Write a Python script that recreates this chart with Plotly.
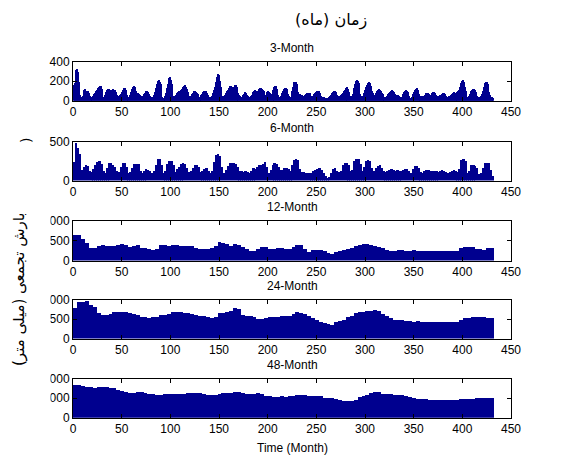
import plotly.graph_objects as go

# ---------------- data ----------------
PERIODS = ["3-Month", "6-Month", "12-Month", "24-Month", "48-Month"]

# 3-month cumulative precipitation, monthly (months 1..432)
SPI3 = [160, 180, 320, 330, 300, 190, 60, 40, 30, 50, 110, 120, 90, 105, 100, 80, 55, 45, 35, 45,
        55, 70, 85, 100, 115, 130, 145, 155, 150, 120, 40, 30, 60, 90, 115, 125, 120, 110, 105, 115,
        120, 110, 115, 90, 65, 50, 40, 60, 75, 95, 115, 130, 135, 110, 60, 45, 35, 40, 60, 90,
        125, 140, 150, 140, 100, 85, 80, 75, 65, 55, 40, 50, 70, 85, 100, 105, 90, 70, 55, 45,
        35, 40, 60, 90, 130, 170, 205, 215, 200, 170, 40, 30, 30, 35, 50, 80, 130, 175, 235, 245,
        220, 170, 50, 40, 50, 60, 85, 95, 100, 105, 110, 125, 140, 155, 160, 140, 120, 95, 55, 50,
        55, 75, 85, 100, 100, 95, 85, 70, 45, 40, 45, 60, 75, 90, 100, 105, 100, 85, 60, 45,
        35, 40, 50, 80, 110, 140, 200, 250, 275, 265, 210, 140, 50, 40, 50, 60, 85, 100, 115, 130,
        150, 155, 145, 130, 145, 160, 160, 145, 110, 85, 65, 55, 40, 45, 65, 75, 90, 85, 65, 55,
        40, 45, 50, 65, 95, 105, 110, 105, 95, 100, 120, 130, 130, 125, 115, 100, 55, 60, 95, 100,
        95, 80, 65, 70, 110, 130, 145, 155, 150, 125, 60, 45, 40, 55, 80, 100, 120, 130, 130, 120,
        70, 50, 35, 40, 100, 140, 190, 200, 195, 170, 90, 75, 70, 65, 60, 55, 55, 60, 75, 85,
        85, 85, 80, 70, 50, 40, 55, 70, 80, 90, 100, 105, 100, 85, 50, 40, 40, 45, 35, 30,
        30, 35, 40, 50, 60, 80, 95, 105, 100, 90, 65, 55, 50, 55, 65, 75, 85, 100, 115, 130,
        140, 140, 120, 95, 55, 50, 50, 75, 130, 170, 205, 215, 210, 185, 70, 50, 40, 50, 85, 115,
        140, 165, 185, 190, 180, 155, 100, 80, 60, 65, 85, 100, 110, 120, 115, 105, 85, 75, 55, 45,
        40, 45, 55, 70, 85, 95, 105, 108, 105, 95, 75, 65, 65, 65, 55, 45, 40, 45, 70, 90,
        100, 110, 105, 95, 50, 35, 30, 40, 70, 95, 115, 125, 130, 115, 70, 55, 55, 55, 50, 50,
        55, 65, 80, 85, 80, 70, 60, 65, 85, 95, 90, 80, 65, 55, 55, 55, 60, 65, 75, 85,
        80, 70, 55, 45, 45, 50, 55, 65, 75, 85, 90, 80, 70, 75, 90, 100, 110, 140, 185, 210,
        215, 200, 140, 100, 45, 40, 55, 75, 100, 115, 120, 125, 110, 90, 55, 45, 40, 45, 55, 75,
        105, 140, 180, 195, 195, 170, 95, 65, 40, 40, 35, 35]

# 6-month cumulative precipitation, 2-month bins (months 1-2, 3-4, ... 431-432)
SPI6 = [240, 490, 420, 340, 140, 180, 200, 195, 130, 110, 150, 200, 240, 255, 220, 130, 95, 170, 230, 235,
        210, 180, 120, 115, 180, 235, 225, 180, 100, 110, 160, 215, 220, 215, 130, 95, 130, 150, 145, 130,
        95, 120, 200, 280, 285, 200, 100, 130, 220, 250, 255, 210, 110, 150, 180, 215, 235, 215, 170, 110,
        120, 170, 210, 205, 180, 110, 120, 150, 160, 120, 95, 130, 240, 330, 350, 320, 180, 100, 140, 190,
        230, 225, 230, 220, 180, 130, 120, 110, 130, 110, 100, 130, 170, 150, 180, 210, 205, 215, 240, 175,
        100, 140, 200, 225, 220, 180, 135, 145, 165, 165, 150, 120, 200, 270, 285, 270, 150, 110, 115, 105,
        105, 100, 105, 120, 140, 155, 160, 140, 100, 60, 35, 50, 100, 150, 160, 120, 110, 130, 200, 230,
        235, 200, 120, 140, 250, 275, 275, 220, 120, 180, 255, 265, 250, 170, 130, 160, 195, 200, 170, 120,
        110, 120, 140, 150, 145, 130, 135, 130, 120, 140, 155, 155, 120, 100, 150, 185, 190, 170, 110, 100,
        120, 135, 135, 130, 130, 120, 120, 115, 125, 135, 130, 110, 100, 115, 130, 135, 120, 110, 150, 270,
        280, 250, 100, 130, 200, 210, 190, 170, 90, 95, 160, 230, 235, 225, 140, 65]

# 12-month cumulative precipitation, 4-month bins (months 1-4, 5-8, ... 429-432)
SPI12 = [650, 640, 560, 450, 320, 310, 370, 385, 380, 360, 370, 405, 410, 390, 350, 370, 385, 330, 310, 290,
         265, 300, 385, 385, 380, 385, 400, 360, 370, 375, 360, 310, 300, 300, 295, 310, 380, 460, 450, 420,
         360, 410, 405, 340, 300, 250, 255, 300, 340, 345, 300, 285, 330, 320, 300, 290, 350, 400, 390, 300,
         230, 260, 270, 260, 245, 190, 165, 220, 245, 270, 300, 320, 360, 395, 410, 415, 400, 370, 350, 330,
         260, 240, 245, 265, 260, 255, 250, 260, 250, 240, 245, 250, 240, 245, 240, 235, 240, 235, 240, 330,
         350, 345, 340, 290, 285, 270, 320, 320]

# 24-month cumulative precipitation, 4-month bins
SPI24 = [800, 950, 945, 975, 880, 820, 660, 615, 610, 640, 690, 700, 690, 680, 665, 650, 620, 570, 555, 550,
         555, 570, 620, 620, 640, 690, 700, 680, 665, 660, 640, 610, 600, 590, 560, 550, 560, 660, 670, 700,
         730, 790, 760, 620, 600, 590, 560, 510, 520, 540, 555, 555, 570, 590, 600, 590, 650, 680, 670, 640,
         590, 550, 500, 440, 420, 380, 360, 430, 460, 500, 560, 600, 660, 690, 700, 710, 725, 735, 720, 640,
         580, 530, 500, 490, 480, 460, 450, 445, 450, 440, 440, 430, 435, 430, 425, 430, 425, 430, 425, 480,
         545, 550, 555, 575, 570, 560, 540, 545]

# 48-month cumulative precipitation, 4-month bins
SPI48 = [1700, 1690, 1640, 1600, 1570, 1560, 1570, 1575, 1580, 1560, 1530, 1460, 1380, 1330, 1310, 1300, 1320, 1340, 1290, 1240,
         1210, 1200, 1205, 1210, 1230, 1235, 1240, 1245, 1250, 1270, 1275, 1270, 1265, 1260, 1200, 1190, 1200, 1250, 1270, 1275,
         1280, 1330, 1350, 1280, 1250, 1240, 1260, 1270, 1250, 1140, 1110, 1100, 1100, 1110, 1100, 1120, 1150, 1190, 1200, 1180,
         1130, 1120, 1140, 1110, 1050, 1040, 1030, 990, 950, 900, 895, 900, 920, 1080, 1120, 1200, 1270, 1330, 1340, 1260,
         1230, 1210, 1200, 1180, 1160, 1130, 1100, 1040, 1000, 980, 970, 940, 930, 920, 930, 920, 910, 920, 930, 975,
         990, 985, 990, 1020, 1030, 1010, 1040, 1040]

SERIES = [SPI3, SPI6, SPI12, SPI24, SPI48]
BIN_MONTHS = [1, 2, 4, 4, 4]          # months per bar
Y_MAX = [400, 500, 1000, 1000, 2000]
Y_STEP = [200, 500, 500, 500, 1000]
X_MAX = 450
X_STEP = 50

X_TITLE = "Time (Month)"
TOP_TITLE = "زمان (ماه)"
Y_TITLE = "بارش تجمعی (میلی متر)"

# ---------------- layout geometry (pixels) ----------------
W, H = 569, 455
X0, X1 = 73, 511
PANELS = [(61.7, 100.7), (141.7, 180.5), (220.7, 260.5), (299.5, 338.5), (378.5, 417.7)]
BAR = "rgb(0,0,143)"
FONT = "Liberation Sans, Arial, sans-serif"
AR_FONT = "DejaVu Sans, sans-serif"

fig = go.Figure()
layout = {}
annotations = []
for i, (name, vals, w) in enumerate(zip(PERIODS, SERIES, BIN_MONTHS)):
    n = "" if i == 0 else str(i + 1)
    xs = [1 + k * w + (w - 1) / 2 for k in range(len(vals))]
    fig.add_trace(go.Bar(x=xs, y=vals, width=w, marker=dict(color=BAR, line=dict(width=0)),
                         xaxis="x" + n, yaxis="y" + n, showlegend=False, hoverinfo="x+y"))
    top, bot = PANELS[i]
    common = dict(showline=True, linecolor="black", linewidth=1, mirror="allticks", ticks="inside",
                  ticklen=4, tickcolor="black", showgrid=False, zeroline=False, automargin=False,
                  tickfont=dict(family=FONT, size=12, color="black"))
    layout["xaxis" + n] = dict(domain=[X0 / W, X1 / W], anchor="y" + n, range=[0, X_MAX],
                               tick0=0, dtick=X_STEP, **common)
    layout["yaxis" + n] = dict(domain=[1 - bot / H, 1 - top / H], anchor="x" + n,
                               range=[0, Y_MAX[i]], tick0=0, dtick=Y_STEP[i], **common)
    annotations.append(dict(text=name, x=(X0 + X1) / 2 / W, y=1 - top / H, xref="paper", yref="paper",
                            xanchor="center", yanchor="bottom", yshift=5, showarrow=False,
                            font=dict(family=FONT, size=12, color="black")))

# white band that crops the left edge of the figure (as in the original export)
MASK_W = 48.5
annotations.insert(0, dict(text=" ", x=0, y=1 - 205 / H, xref="paper", yref="paper",
                           xanchor="left", yanchor="top", width=MASK_W, height=222, borderpad=0,
                           bgcolor="white", showarrow=False, font=dict(size=4)))

annotations += [
    dict(text=X_TITLE, x=(X0 + X1) / 2 / W, y=1 - 448 / H, xref="paper", yref="paper",
         xanchor="center", yanchor="middle", showarrow=False, font=dict(family=FONT, size=12, color="black")),
    dict(text=TOP_TITLE, x=331 / W, y=1 - 20 / H, xref="paper", yref="paper",
         xanchor="center", yanchor="middle", showarrow=False, font=dict(family=AR_FONT, size=16, color="black")),
    dict(text=Y_TITLE, x=19 / W, y=1 - 290 / H, xref="paper", yref="paper", textangle=-90,
         xanchor="center", yanchor="middle", showarrow=False, font=dict(family=AR_FONT, size=15, color="black")),
    dict(text=")", x=26 / W, y=1 - 141 / H, xref="paper", yref="paper", textangle=-90,
         xanchor="center", yanchor="middle", showarrow=False, font=dict(family=AR_FONT, size=14, color="black")),
]

fig.update_layout(
    width=W, height=H, margin=dict(l=0, r=0, t=0, b=0),
    paper_bgcolor="white", plot_bgcolor="white", bargap=0, barmode="overlay",
    annotations=annotations,
    **layout,
)

fig.write_html("out.html")
